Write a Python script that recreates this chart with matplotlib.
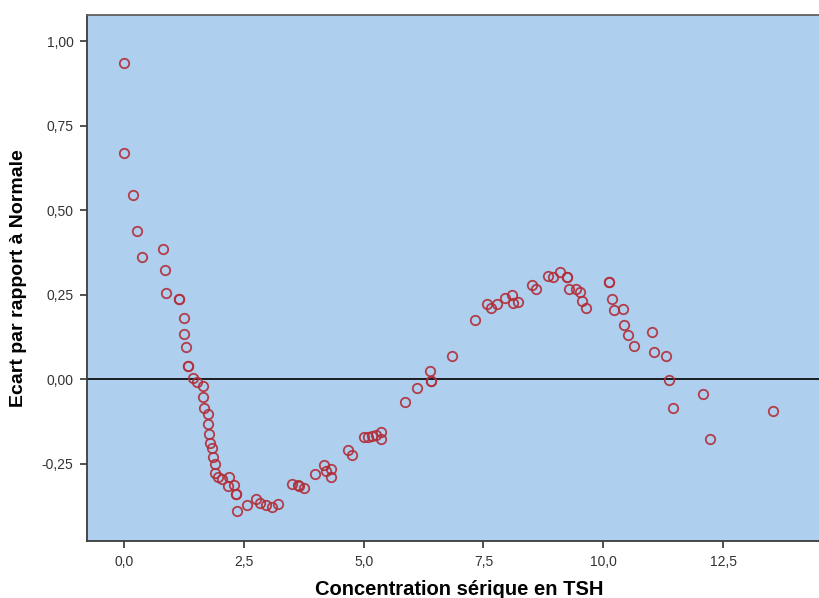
import matplotlib
matplotlib.use("Agg")
import matplotlib.pyplot as plt
from matplotlib.ticker import FuncFormatter

# valeurs
tsh = [0.01, 0.01, 0.19, 0.28, 0.38, 0.81, 0.86, 0.87, 1.15, 1.15,
       1.25, 1.25, 1.30, 1.34, 1.34, 1.44, 1.52, 1.65, 1.65, 1.66,
       1.75, 1.75, 1.77, 1.79, 1.84, 1.85, 1.89, 1.89, 1.96, 2.04,
       2.18, 2.17, 2.29, 2.34, 2.34, 2.35, 2.56, 2.75, 2.84, 2.97,
       3.09, 3.21, 3.51, 3.63, 3.66, 3.76, 3.99, 4.17, 4.21, 4.31,
       4.31, 4.68, 4.75, 5.01, 5.10, 5.17, 5.26, 5.36, 5.37, 5.86,
       6.11, 6.38, 6.41, 6.41, 6.84, 7.33, 7.58, 7.66, 7.79, 7.95,
       8.10, 8.11, 8.22, 8.51, 8.59, 8.84, 8.94, 9.10, 9.24, 9.24,
       9.28, 9.42, 9.52, 9.56, 9.63, 10.12, 10.12, 10.18, 10.22, 10.42,
       10.43, 10.52, 10.63, 11.01, 11.06, 11.30, 11.36, 11.45, 12.08, 12.23,
       13.54]
ecart = [0.937, 0.670, 0.545, 0.439, 0.361, 0.385, 0.323, 0.256, 0.238, 0.238,
         0.182, 0.134, 0.096, 0.039, 0.039, 0.004, -0.008, -0.018, -0.052, -0.084,
         -0.102, -0.133, -0.160, -0.188, -0.204, -0.230, -0.251, -0.278, -0.288, -0.295,
         -0.288, -0.314, -0.312, -0.338, -0.338, -0.388, -0.370, -0.354, -0.364, -0.370,
         -0.376, -0.369, -0.310, -0.312, -0.314, -0.320, -0.279, -0.253, -0.270, -0.266,
         -0.289, -0.209, -0.222, -0.171, -0.169, -0.167, -0.164, -0.155, -0.177, -0.067,
         -0.025, 0.026, -0.004, -0.004, 0.070, 0.177, 0.223, 0.212, 0.223, 0.241,
         0.250, 0.225, 0.228, 0.278, 0.268, 0.306, 0.304, 0.317, 0.304, 0.304,
         0.267, 0.268, 0.259, 0.232, 0.212, 0.288, 0.288, 0.238, 0.204, 0.208,
         0.162, 0.131, 0.100, 0.140, 0.082, 0.070, -0.002, -0.083, -0.043, -0.177,
         -0.092]

xticks = [0, 2.5, 5, 7.5, 10, 12.5]
yticks = [-0.25, 0, 0.25, 0.5, 0.75, 1.0]

plt.rcParams['font.family'] = ['Liberation Sans', 'DejaVu Sans']

fig = plt.figure(figsize=(8.19, 5.98), dpi=100)
ax = fig.add_axes([0.1066, 0.0958, 0.8934, 0.8791])
ax.set_facecolor('#aecfed')

ax.axhline(0, color='black', lw=1.2, zorder=1)
ax.plot(tsh, ecart, 'o', ms=6.8, mfc='none', mec='#b32d38', mew=1.3, alpha=0.9, zorder=2)

ax.set_xlim(-0.766, 14.5)
ax.set_ylim(-0.477, 1.078)
ax.set_xticks(xticks)
ax.set_yticks(yticks)
ax.xaxis.set_major_formatter(FuncFormatter(lambda v, p: f"{v:.1f}".replace('.', ',')))
ax.yaxis.set_major_formatter(FuncFormatter(lambda v, p: f"{v:.2f}".replace('.', ',')))
ax.tick_params(direction='out', length=5, width=1.2, color='#333333',
               labelsize=10, labelcolor='#333333', pad=5)

for side in ['left', 'bottom', 'top']:
    ax.spines[side].set_color('#3c3c3c')
    ax.spines[side].set_linewidth(1.3)
ax.spines['top'].set_color('#606060')
ax.spines['right'].set_visible(False)

ax.set_xlabel('Concentration sérique en TSH', fontsize=14.5, fontweight='bold', va='center')
ax.set_ylabel('Ecart par rapport à Normale', fontsize=14, fontweight='bold', va='center')
ax.xaxis.set_label_coords(0.508, -0.092)
ax.yaxis.set_label_coords(-0.094, 0.50)

fig.savefig('out.png', dpi=100)
